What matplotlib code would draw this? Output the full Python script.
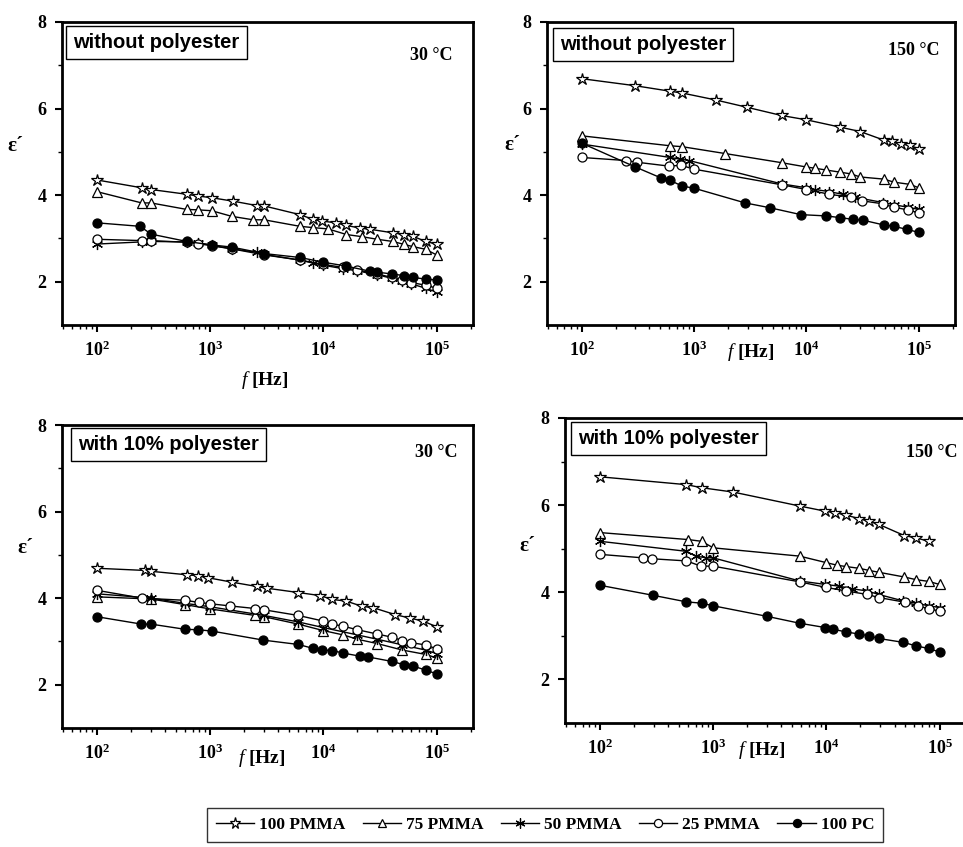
import matplotlib
matplotlib.use('Agg')
import matplotlib.pyplot as plt
from matplotlib.lines import Line2D

plt.rcParams['font.family'] = ['Liberation Serif', 'DejaVu Serif']
plt.rcParams['mathtext.fontset'] = 'custom'
plt.rcParams['mathtext.rm'] = 'Liberation Serif:bold'
plt.rcParams['mathtext.bf'] = 'Liberation Serif:bold'
plt.rcParams['mathtext.it'] = 'Liberation Serif:italic'

# --- data: frequency [Hz] and permittivity for each blend ---
# panel 1: without polyester, 30 C
p1_f_pmma100 = [100, 248, 300, 620, 780, 1030, 1600, 2570, 3000, 6200, 8100, 9800, 13000, 16000, 21000, 26000, 41000, 52000, 62000, 80000, 100000]
p1_e_pmma100 = [4.35, 4.17, 4.13, 4.02, 3.98, 3.94, 3.86, 3.76, 3.75, 3.55, 3.44, 3.40, 3.36, 3.30, 3.24, 3.21, 3.13, 3.09, 3.05, 2.93, 2.87]
p1_f_pmma75 = [100, 248, 300, 620, 780, 1030, 1550, 2400, 3000, 6200, 8100, 11000, 16000, 22000, 30000, 41000, 52000, 62000, 80000, 100000]
p1_e_pmma75 = [4.08, 3.82, 3.82, 3.67, 3.66, 3.64, 3.51, 3.43, 3.43, 3.28, 3.25, 3.22, 3.09, 3.04, 2.98, 2.93, 2.86, 2.81, 2.75, 2.62]
p1_f_pmma50 = [100, 248, 300, 620, 780, 1030, 1550, 2570, 3000, 6200, 8100, 10000, 15000, 20000, 30000, 40000, 50000, 60000, 80000, 100000]
p1_e_pmma50 = [2.87, 2.92, 2.93, 2.92, 2.90, 2.84, 2.76, 2.68, 2.63, 2.50, 2.43, 2.38, 2.30, 2.25, 2.16, 2.08, 2.01, 1.95, 1.85, 1.76]
p1_f_pmma25 = [100, 248, 300, 620, 780, 1030, 1550, 3000, 6200, 10000, 15000, 20000, 30000, 40000, 50000, 60000, 80000, 100000]
p1_e_pmma25 = [2.98, 2.95, 2.95, 2.91, 2.88, 2.83, 2.76, 2.62, 2.50, 2.40, 2.33, 2.27, 2.18, 2.10, 2.04, 1.98, 1.92, 1.85]
p1_f_pc = [100, 240, 300, 620, 1030, 1550, 3000, 6200, 10000, 16000, 26000, 30000, 40000, 52000, 62000, 80000, 100000]
p1_e_pc = [3.36, 3.28, 3.10, 2.93, 2.85, 2.80, 2.65, 2.56, 2.45, 2.36, 2.24, 2.22, 2.18, 2.14, 2.10, 2.06, 2.04]

# panel 2: without polyester, 150 C
p2_f_pmma100 = [100, 295, 614, 780, 1550, 2950, 6000, 10000, 20000, 30000, 49000, 58000, 70000, 83000, 100000]
p2_e_pmma100 = [6.69, 6.53, 6.40, 6.36, 6.20, 6.03, 5.84, 5.74, 5.57, 5.47, 5.27, 5.24, 5.18, 5.15, 5.07]
p2_f_pmma75 = [100, 614, 780, 1900, 6000, 10000, 12000, 15000, 20000, 25000, 30000, 49000, 60000, 83000, 100000]
p2_e_pmma75 = [5.37, 5.14, 5.12, 4.96, 4.75, 4.65, 4.62, 4.58, 4.53, 4.49, 4.42, 4.37, 4.30, 4.25, 4.17]
p2_f_pmma50 = [100, 614, 750, 900, 6000, 10000, 12000, 16000, 21000, 27000, 48000, 60000, 80000, 100000]
p2_e_pmma50 = [5.18, 4.87, 4.83, 4.80, 4.26, 4.17, 4.13, 4.08, 4.02, 3.95, 3.83, 3.78, 3.72, 3.67]
p2_f_pmma25 = [100, 247, 310, 600, 760, 1000, 6000, 10000, 16000, 25000, 31000, 48000, 60000, 80000, 100000]
p2_e_pmma25 = [4.87, 4.80, 4.76, 4.67, 4.69, 4.60, 4.24, 4.13, 4.02, 3.95, 3.87, 3.80, 3.72, 3.66, 3.59]
p2_f_pc = [100, 300, 505, 614, 780, 1000, 2850, 4700, 8900, 15000, 20000, 26000, 32000, 49000, 60000, 78000, 100000]
p2_e_pc = [5.20, 4.65, 4.40, 4.34, 4.21, 4.16, 3.82, 3.71, 3.55, 3.52, 3.48, 3.44, 3.42, 3.31, 3.28, 3.21, 3.14]

# panel 3: with 10% polyester, 30 C
p3_f_pmma100 = [100, 265, 300, 620, 780, 960, 1550, 2570, 3150, 6000, 9300, 12000, 16000, 22000, 27500, 43000, 58000, 76000, 100000]
p3_e_pmma100 = [4.69, 4.64, 4.62, 4.54, 4.52, 4.47, 4.37, 4.27, 4.23, 4.13, 4.06, 3.97, 3.93, 3.81, 3.78, 3.62, 3.54, 3.47, 3.34]
p3_f_pmma75 = [100, 300, 600, 1000, 2500, 3000, 6000, 10000, 15000, 20000, 30000, 50000, 80000, 100000]
p3_e_pmma75 = [4.03, 3.98, 3.85, 3.75, 3.60, 3.57, 3.40, 3.25, 3.15, 3.05, 2.95, 2.80, 2.70, 2.62]
p3_f_pmma50 = [100, 300, 600, 1000, 3000, 6000, 10000, 20000, 30000, 50000, 80000, 100000]
p3_e_pmma50 = [4.10, 4.00, 3.88, 3.80, 3.60, 3.45, 3.32, 3.15, 3.05, 2.92, 2.80, 2.72]
p3_f_pmma25 = [100, 250, 600, 800, 1000, 1500, 2500, 3000, 6000, 10000, 12000, 15000, 20000, 30000, 40000, 50000, 60000, 80000, 100000]
p3_e_pmma25 = [4.18, 4.00, 3.95, 3.90, 3.87, 3.82, 3.76, 3.73, 3.60, 3.47, 3.40, 3.35, 3.27, 3.17, 3.10, 3.02, 2.97, 2.92, 2.83]
p3_f_pc = [100, 247, 300, 600, 780, 1030, 2950, 6000, 8100, 9800, 12000, 15000, 21000, 25000, 40000, 52000, 62000, 80000, 100000]
p3_e_pc = [3.57, 3.40, 3.40, 3.28, 3.27, 3.24, 3.03, 2.93, 2.84, 2.80, 2.79, 2.73, 2.66, 2.64, 2.54, 2.46, 2.43, 2.34, 2.25]

# panel 4: with 10% polyester, 150 C
p4_f_pmma100 = [100, 580, 790, 1500, 5800, 9800, 12000, 15000, 19500, 24000, 29000, 49000, 62000, 80000]
p4_e_pmma100 = [6.65, 6.47, 6.40, 6.30, 5.98, 5.86, 5.83, 5.77, 5.69, 5.63, 5.56, 5.30, 5.25, 5.17]
p4_f_pmma75 = [100, 600, 790, 1000, 5800, 10000, 12500, 15000, 19500, 24000, 29000, 49000, 62000, 80000, 100000]
p4_e_pmma75 = [5.37, 5.21, 5.17, 5.02, 4.83, 4.68, 4.62, 4.59, 4.55, 4.50, 4.46, 4.35, 4.29, 4.25, 4.18]
p4_f_pmma50 = [100, 580, 700, 870, 1000, 5800, 9800, 13000, 17000, 23000, 29000, 48000, 62000, 80000, 100000]
p4_e_pmma50 = [5.17, 4.94, 4.83, 4.79, 4.79, 4.26, 4.18, 4.14, 4.08, 4.03, 3.95, 3.80, 3.75, 3.69, 3.65]
p4_f_pmma25 = [100, 240, 285, 580, 780, 1000, 5800, 10000, 15000, 23000, 29000, 50000, 65000, 80000, 100000]
p4_e_pmma25 = [4.87, 4.79, 4.77, 4.72, 4.60, 4.60, 4.24, 4.11, 4.03, 3.95, 3.88, 3.77, 3.69, 3.62, 3.57]
p4_f_pc = [100, 295, 580, 790, 1000, 2960, 5800, 9800, 11500, 15000, 19500, 24000, 29000, 48000, 62000, 80000, 100000]
p4_e_pc = [4.16, 3.93, 3.78, 3.75, 3.69, 3.45, 3.29, 3.19, 3.15, 3.09, 3.04, 3.00, 2.94, 2.85, 2.77, 2.71, 2.63]

series_labels = ['100 PMMA', '75 PMMA', '50 PMMA', '25 PMMA', '100 PC']
panel_titles = ['without polyester', 'without polyester', 'with 10% polyester', 'with 10% polyester']
panel_temps = ['30 °C', '150 °C', '30 °C', '150 °C']
xtick_vals = [1e2, 1e3, 1e4, 1e5]
xtick_labels = [r'$\mathbf{10^{2}}$', r'$\mathbf{10^{3}}$', r'$\mathbf{10^{4}}$', r'$\mathbf{10^{5}}$']

panels = [
    [(p1_f_pmma100, p1_e_pmma100), (p1_f_pmma75, p1_e_pmma75), (p1_f_pmma50, p1_e_pmma50),
     (p1_f_pmma25, p1_e_pmma25), (p1_f_pc, p1_e_pc)],
    [(p2_f_pmma100, p2_e_pmma100), (p2_f_pmma75, p2_e_pmma75), (p2_f_pmma50, p2_e_pmma50),
     (p2_f_pmma25, p2_e_pmma25), (p2_f_pc, p2_e_pc)],
    [(p3_f_pmma100, p3_e_pmma100), (p3_f_pmma75, p3_e_pmma75), (p3_f_pmma50, p3_e_pmma50),
     (p3_f_pmma25, p3_e_pmma25), (p3_f_pc, p3_e_pc)],
    [(p4_f_pmma100, p4_e_pmma100), (p4_f_pmma75, p4_e_pmma75), (p4_f_pmma50, p4_e_pmma50),
     (p4_f_pmma25, p4_e_pmma25), (p4_f_pc, p4_e_pc)],
]

# marker styles per blend
styles = [
    dict(marker='*', ms=9, mfc='white', mec='black'),
    dict(marker='^', ms=7, mfc='white', mec='black'),
    dict(marker=(6, 2, 0), ms=8, mfc='black', mec='black'),
    dict(marker='o', ms=6.5, mfc='white', mec='black'),
    dict(marker='o', ms=6.5, mfc='black', mec='black'),
]

W, H = 963, 847
fig = plt.figure(figsize=(W / 100, H / 100), dpi=100)

# axes rectangles in pixels: left, top, right, bottom
rects = [(62, 22, 473, 325), (547, 22, 955, 325), (62, 425, 473, 728), (565, 418, 976, 723)]
box_pos = [(0.028, 0.965), (0.032, 0.958), (0.038, 0.968), (0.032, 0.963)]
temp_pos = [(0.951, 0.89), (0.963, 0.905), (0.963, 0.91), (0.956, 0.887)]
xlab_pos = [(0.494, -0.18), (0.50, -0.09), (0.487, -0.10), (0.48, -0.09)]
ylab_pos = [(-0.114, 0.59), (-0.086, 0.594), (-0.09, 0.594), (-0.092, 0.58)]

for i, (l, t, r, b) in enumerate(rects):
    ax = fig.add_axes([l / W, 1 - b / H, (r - l) / W, (b - t) / H])
    for (f, e), st in zip(panels[i], styles):
        ax.plot(f, e, color='black', lw=1.0, mew=0.9, **st)

    ax.set_xscale('log')
    ax.set_xlim(49, 2.1e5)
    ax.set_ylim(1, 8)
    ax.set_xticks(xtick_vals)
    ax.set_xticklabels(xtick_labels)
    ax.set_yticks([2, 4, 6, 8])
    ax.set_yticks([3, 5, 7], minor=True)
    ax.set_yticklabels(['2', '4', '6', '8'], fontweight='bold')
    ax.tick_params(axis='both', which='major', direction='out', length=5, width=1.5,
                   labelsize=13, pad=6)
    ax.tick_params(axis='both', which='minor', direction='out', length=3, width=1.0)
    ax.tick_params(axis='y', which='both', right=False)
    ax.tick_params(axis='x', which='both', top=False)
    for sp in ax.spines.values():
        sp.set_linewidth(2.0)

    ax.text(box_pos[i][0], box_pos[i][1], panel_titles[i], transform=ax.transAxes,
            ha='left', va='top', fontsize=14.5, fontweight='bold', family='Liberation Sans',
            bbox=dict(boxstyle='square,pad=0.35', fc='white', ec='black', lw=1.0))
    ax.text(temp_pos[i][0], temp_pos[i][1], panel_temps[i], transform=ax.transAxes,
            ha='right', va='center', fontsize=13, fontweight='bold')
    ax.text(xlab_pos[i][0], xlab_pos[i][1], r'$\mathit{f}$ [Hz]', transform=ax.transAxes,
            ha='center', va='center', fontsize=14, fontweight='bold')
    ax.text(ylab_pos[i][0], ylab_pos[i][1], 'ε´', transform=ax.transAxes,
            ha='center', va='center', fontsize=15, fontweight='bold')

# shared legend along the bottom
handles = [Line2D([0], [0], color='black', lw=1.0, mew=0.9,
                  **{**st, 'ms': st['ms'] * 0.9}) for st in styles]
leg = fig.legend(handles, series_labels, loc='center', bbox_to_anchor=(545 / W, 1 - 825 / H),
                 ncol=5, fontsize=12.5, frameon=True, fancybox=False, edgecolor='black',
                 handlelength=2.2, handletextpad=0.3, columnspacing=1.0, borderpad=0.5)
leg.get_frame().set_linewidth(1.0)
for txt in leg.get_texts():
    txt.set_fontweight('bold')

fig.savefig('out.png', dpi=100)
